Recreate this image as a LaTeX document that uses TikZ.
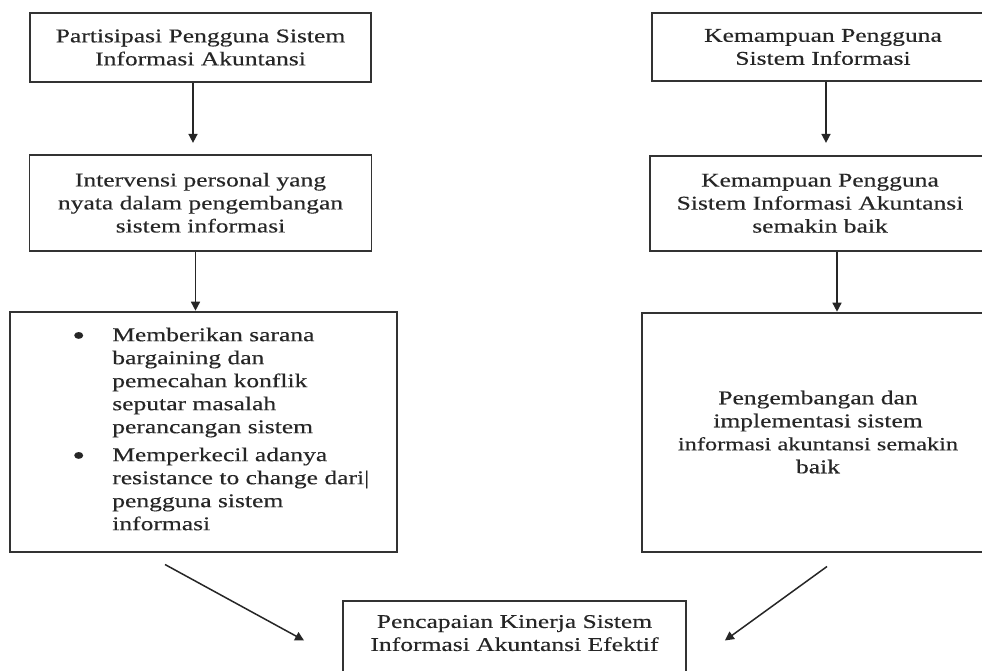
\documentclass[tikz,border=0pt]{standalone}
\usepackage{fontspec}
\setmainfont{Liberation Serif}[FakeStretch=1.31,FakeBold=0.25]
\usepackage{tikz}
\usetikzlibrary{arrows.meta,positioning}

\tikzset{
  flowbox/.style={rectangle, draw=black!80, line width=1.8pt, inner sep=0pt, align=center, text=black!85, font=\fontsize{19.5pt}{23pt}\selectfont},
  plaintxt/.style={inner sep=0pt, align=center, text=black!85, font=\fontsize{19.5pt}{23pt}\selectfont},
  flowarrow/.style={-{Triangle[length=9pt,width=9pt]}, line width=1.5pt, color=black!85}
}
\newcommand{\bigbullet}{\raisebox{-3.5pt}{\fontsize{28pt}{23pt}\selectfont\textbullet}}

\begin{document}
\begin{tikzpicture}[x=1pt,y=-1pt]
\useasboundingbox (0,0) rectangle (982,671);
\clip (0,0) rectangle (982,671);
\fill[white] (0,0) rectangle (982,671);
\node[flowbox, minimum width=341pt, minimum height=69pt] (partisipasi) at (200.5,47.5) {Partisipasi Pengguna Sistem\\Informasi Akuntansi};
\node[flowbox, minimum width=342pt, minimum height=96pt, below=71pt of partisipasi] (intervensi) {Intervensi personal yang\\nyata dalam pengembangan\\sistem informasi};
\node[flowbox, minimum width=387pt, minimum height=240pt, below=59pt of intervensi, xshift=3pt] (manfaat) {};
\node[plaintxt, anchor=base west, align=left] (manfaattxt) at ([xshift=63pt,yshift=-30.5pt]manfaat.north west) {\begin{tabular}[t]{@{}p{40pt}@{}l@{}}
\bigbullet & Memberikan sarana\\
 & bargaining dan\\
 & pemecahan konflik\\
 & seputar masalah\\
 & perancangan sistem\\[5pt]
\bigbullet & Memperkecil adanya\\
 & resistance to change dari|\\
 & pengguna sistem\\
 & informasi
\end{tabular}};
\node[flowbox, minimum width=342pt, minimum height=68pt] (kemampuan) at (823,47) {Kemampuan Pengguna\\Sistem Informasi};
\node[flowbox, minimum width=340pt, minimum height=95pt, below=73pt of kemampuan, xshift=-3pt] (kemampuansia) {Kemampuan Pengguna\\Sistem Informasi Akuntansi\\semakin baik};
\node[flowbox, minimum width=352pt, minimum height=239pt, below=60pt of kemampuansia, xshift=-2pt] (pengembangan) {Pengembangan dan\\implementasi sistem\\{\fontsize{18.6pt}{23pt}\selectfont informasi akuntansi semakin}\\baik};
\node[flowbox, minimum width=343pt, minimum height=79pt] (kinerja) at (514.5,640.5) {};
\node[plaintxt] (kinerjatxt) at ([yshift=-33pt]kinerja.north) {Pencapaian Kinerja Sistem\\Informasi Akuntansi Efektif};
\draw[flowarrow, shorten >=11pt] ([xshift=-7.5pt]partisipasi.south) -- ([xshift=-7.5pt]partisipasi.south |- intervensi.north);
\draw[flowarrow] ([xshift=-5pt]intervensi.south) -- ([xshift=-5pt]intervensi.south |- manfaat.north);
\draw[flowarrow, shorten >=12pt] ([xshift=3pt]kemampuan.south) -- ([xshift=3pt]kemampuan.south |- kemampuansia.north);
\draw[flowarrow] ([xshift=17pt]kemampuansia.south) -- ([xshift=17pt]kemampuansia.south |- pengembangan.north);
\draw[flowarrow] ([xshift=-38.5pt,yshift=-12pt]manfaat.south) -- ([xshift=-38pt]kinerja.west);
\draw[flowarrow] ([xshift=9pt,yshift=-14pt]pengembangan.south) -- ([xshift=38pt]kinerja.east);
\end{tikzpicture}
\end{document}
